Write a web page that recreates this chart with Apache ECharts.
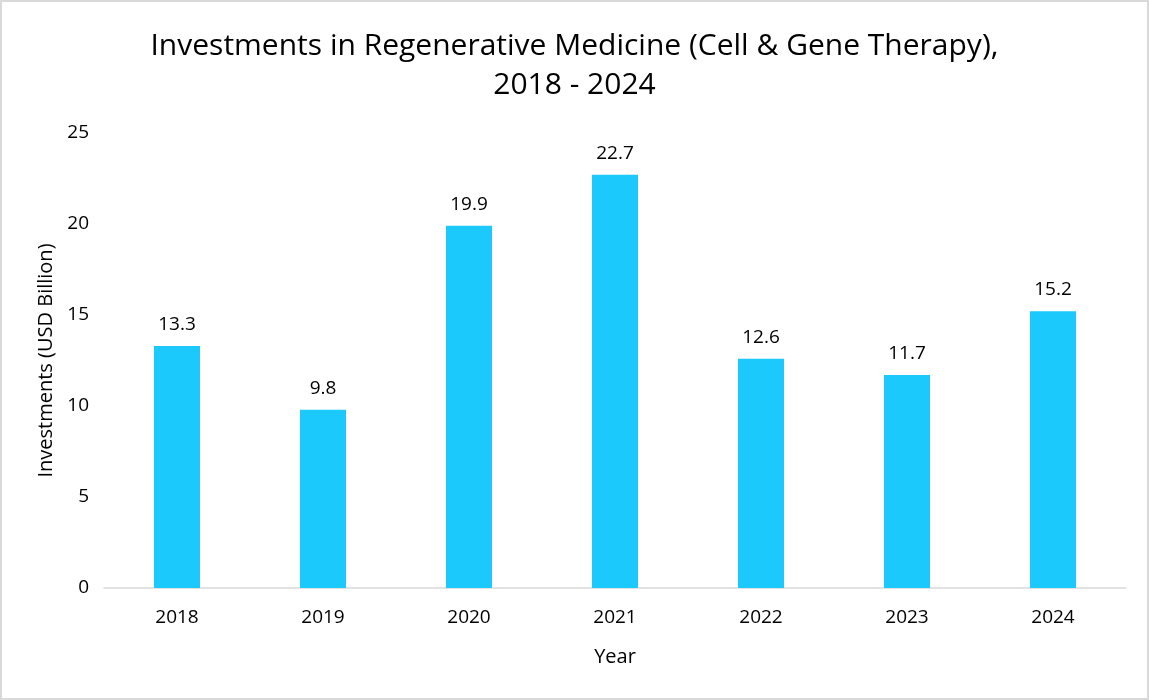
<!DOCTYPE html>
<html>
<head>
<meta charset="utf-8">
<script src="https://cdn.jsdelivr.net/npm/echarts@6/dist/echarts.min.js"></script>
<style>
html,body{margin:0;padding:0;background:#fff;}
#c{width:1145px;height:696px;border:2px solid #d9d9d9;}
</style>
</head>
<body>
<div id="c"></div>
<script>
const categories = ['2018','2019','2020','2021','2022','2023','2024'];
const values = [13.3, 9.8, 19.9, 22.7, 12.6, 11.7, 15.2];
const titleText = 'Investments in Regenerative Medicine (Cell & Gene Therapy),\n2018 - 2024';
const FONT = 'Open Sans';
const chart = echarts.init(document.getElementById('c'));
chart.setOption({
  animation: false,
  title: {
    text: titleText,
    left: 'center',
    top: 20,
    textStyle: {fontFamily: FONT, fontSize: 30, fontWeight: 'normal', color: '#000', lineHeight: 39}
  },
  grid: {left: 102, right: 21, top: 131, bottom: 110},
  xAxis: {
    type: 'category',
    data: categories,
    name: 'Year',
    nameLocation: 'middle',
    nameGap: 59,
    nameTextStyle: {fontFamily: FONT, fontSize: 20, color: '#000'},
    axisLine: {lineStyle: {color: '#d9d9d9', width: 1.5}},
    axisTick: {show: false},
    axisLabel: {fontFamily: FONT, fontSize: 19, color: '#000', margin: 20}
  },
  yAxis: {
    type: 'value',
    min: 0, max: 25, interval: 5,
    name: 'Investments (USD Billion)',
    nameLocation: 'middle',
    nameGap: 46,
    nameTextStyle: {fontFamily: FONT, fontSize: 20, color: '#000'},
    axisLine: {show: false},
    axisTick: {show: false},
    splitLine: {show: false},
    axisLabel: {fontFamily: FONT, fontSize: 19, color: '#000', margin: 15}
  },
  series: [{
    type: 'bar',
    data: values,
    barWidth: '31.5%',
    itemStyle: {color: '#1CC9FC'},
    label: {show: true, position: 'top', distance: 12, fontFamily: FONT, fontSize: 19, color: '#000'}
  }]
});
</script>
</body>
</html>
